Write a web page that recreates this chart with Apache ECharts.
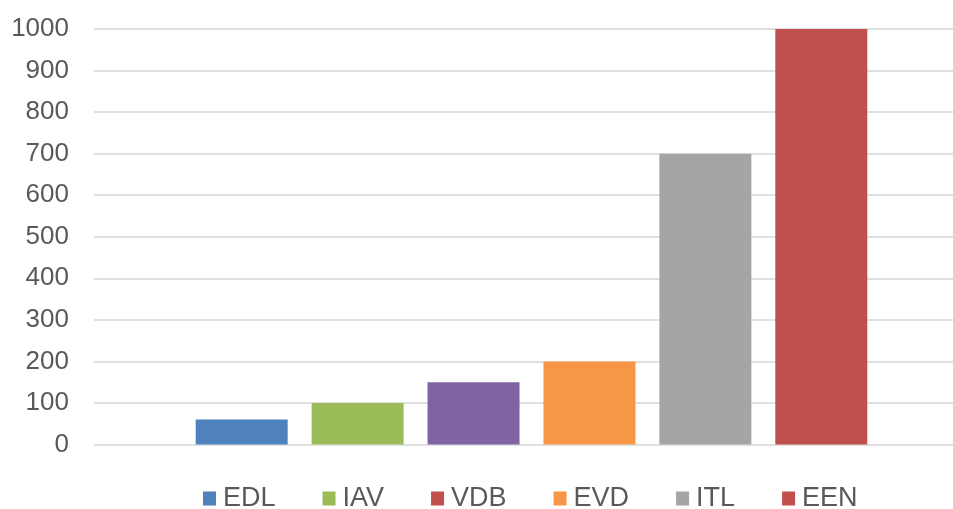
<!DOCTYPE html>
<html>
<head>
<meta charset="utf-8">
<script src="https://cdn.jsdelivr.net/npm/echarts@6/dist/echarts.min.js"></script>
<style>
  html, body { margin: 0; padding: 0; background: #ffffff; }
  #chart { width: 953px; height: 509px; }
</style>
</head>
<body>
<div id="chart"></div>
<script>
// Series names, in legend order
const seriesNames = ['EDL', 'IAV', 'VDB', 'EVD', 'ITL', 'EEN'];
// One value per series
const seriesValues = [60, 100, 150, 200, 700, 1000];
// Bar fill colours
const barColors = ['#4F81BD', '#9BBB59', '#8064A2', '#F79646', '#A5A5A5', '#C0504D'];
// Legend swatch colours (VDB's key is shown in red)
const legendColors = ['#4F81BD', '#9BBB59', '#C0504D', '#F79646', '#A5A5A5', '#C0504D'];
// Y axis range
const yMin = 0, yMax = 1000, yStep = 100;

const textColor = '#595959';
const fontFamily = '"Liberation Sans", Arial, sans-serif';

const chart = echarts.init(document.getElementById('chart'), null, { renderer: 'canvas' });

const series = seriesNames.map((name, i) => ({
  name: name,
  type: 'bar',
  data: [seriesValues[i]],
  barWidth: 92,
  barGap: '26%',
  itemStyle: { color: barColors[i] },
  emphasis: { disabled: true }
}));

chart.setOption({
  animation: false,
  textStyle: { fontFamily: fontFamily },
  // plot area runs slightly past the right edge of the canvas
  grid: {
    left: 94, top: 29, width: 875, bottom: 64.5,
    containLabel: false, outerBoundsMode: 'none'
  },
  legend: {
    left: 203,
    top: 485,
    padding: 0,
    itemWidth: 13,
    itemHeight: 14,
    itemGap: 47,
    icon: 'rect',
    textStyle: { color: textColor, fontSize: 27, fontFamily: fontFamily, padding: [0, 0, 0, 2] },
    data: seriesNames.map((n, i) => ({ name: n, itemStyle: { color: legendColors[i] } }))
  },
  xAxis: {
    type: 'category',
    data: [''],
    axisLine: { show: false },
    axisTick: { show: false },
    axisLabel: { show: false },
    splitLine: { show: false }
  },
  yAxis: {
    type: 'value',
    min: yMin,
    max: yMax,
    interval: yStep,
    axisLine: { show: false },
    axisTick: { show: false },
    axisLabel: {
      color: textColor, fontSize: 26, fontFamily: fontFamily, margin: 25,
      formatter: (v) => String(v)
    },
    splitLine: { lineStyle: { color: '#D6D6D6', width: 1.5 } }
  },
  series: series
});
</script>
</body>
</html>
